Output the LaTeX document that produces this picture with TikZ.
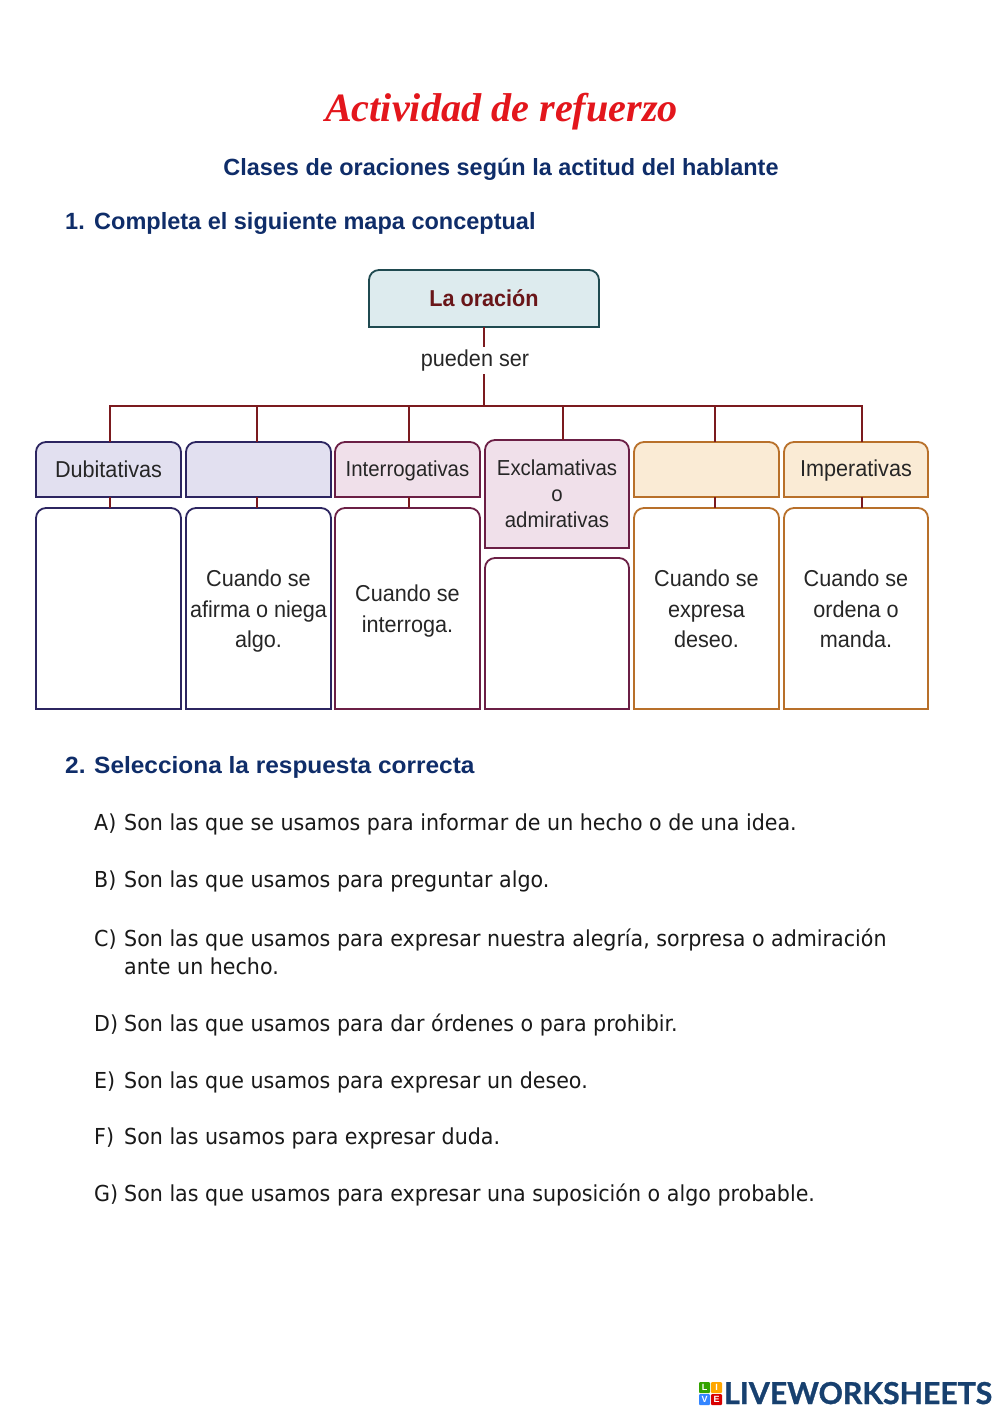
\documentclass[tikz,border=0pt]{standalone}
\usepackage{fontspec}
\setmainfont{Liberation Sans}
\newfontfamily\titlefont{Liberation Serif}
\newfontfamily\bodyfont[FakeStretch=0.937]{DejaVu Sans}
\newfontfamily\mapfont[FakeStretch=0.94]{Liberation Sans}
\newfontfamily\headfont[FakeStretch=1.04]{Liberation Sans}
\newfontfamily\logofont[FakeBold=1]{Lato}
\definecolor{navy}{HTML}{0F2D69}
\definecolor{maroon}{HTML}{7B1A1E}
\definecolor{tealline}{HTML}{1F4A50}
\definecolor{tealfill}{HTML}{DDEBEE}
\definecolor{violetline}{HTML}{2C2560}
\definecolor{violetfill}{HTML}{E2E0F0}
\definecolor{plumline}{HTML}{6B1F45}
\definecolor{plumfill}{HTML}{F0E0EA}
\definecolor{orangeline}{HTML}{B8702A}
\definecolor{orangefill}{HTML}{FAEBD5}
\definecolor{titlered}{HTML}{E3161C}
\definecolor{logonavy}{HTML}{17406F}
\tikzset{
  boxtext/.style={font=\mapfont\fontsize{23}{30.5}\selectfont,align=center,text=black!85},
  smalltext/.style={font=\mapfont\fontsize{21.7}{26}\selectfont,align=center,text=black!85},
  violetbox/.style={draw=violetline,line width=1.8pt},
  plumbox/.style={draw=plumline,line width=1.8pt},
  orangebox/.style={draw=orangeline,line width=1.8pt},
  tealbox/.style={draw=tealline,line width=1.8pt},
  link/.style={draw=maroon,line width=2pt},
  head/.style={font=\bfseries\fontsize{23.5}{28}\selectfont,text=navy,anchor=base west,inner sep=0pt},
  headtwo/.style={font=\headfont\bfseries\fontsize{23.5}{28}\selectfont,text=navy,anchor=base west,inner sep=0pt},
  body/.style={font=\bodyfont\fontsize{22}{28}\selectfont,text=black!90,anchor=base west,inner sep=0pt},
  logosq/.style={rounded corners=1pt,draw=none},
  logoch/.style={font=\bfseries\fontsize{9}{9}\selectfont,text=white,inner sep=0pt},
}
% \capbox{name}{x1}{y1}{x2}{y2}{style and fill}{text style}{dy}{text}
\newcommand{\capbox}[9]{%
  \path[#6] (#2,#5) [rounded corners=10pt] -- (#2,#3) -- (#4,#3) [sharp corners] -- (#4,#5) -- cycle;
  \node[inner sep=0pt,minimum width={(#4-#2)*1pt},minimum height={(#5-#3)*1pt}] (#1) at ({(#2+#4)/2},{(#3+#5)/2}) {};
  \node[#7,inner sep=0pt] (#1t) at ({(#2+#4)/2},{(#3+#5)/2+#8}) {#9};
}
\begin{document}
\begin{tikzpicture}[x=1pt,y=-1pt]
\useasboundingbox (0,0) rectangle (1000,1413);
\fill[white] (0,0) rectangle (1000,1413);

\node[font=\titlefont\bfseries\itshape\fontsize{40.2}{42}\selectfont,text=titlered] (title) at (501.5,112) {Actividad de refuerzo};
\node[font=\bfseries\fontsize{23.45}{28}\selectfont,text=navy] (subtitle) at (501,169) {Clases de oraciones según la actitud del hablante};
\node[head] (n1) at (65,229) {1.};
\node[head] (q1) at (94,229) {Completa el siguiente mapa conceptual};

% map: coordinates of the junctions on the bar
\coordinate (j1) at (110,405.5);
\coordinate (j2) at (257,405.5);
\coordinate (j0) at (484,405.5);
\coordinate (j3) at (409,405.5);
\coordinate (j4) at (563,405.5);
\coordinate (j5) at (715,405.5);
\coordinate (j6) at (862,405.5);

\capbox{root}{369}{270}{599}{327}{tealbox,fill=tealfill}{boxtext}{0}{\textcolor{maroon!85!black}{\bfseries\mapfont La oración}}
\capbox{h1}{36}{442}{181}{497}{violetbox,fill=violetfill}{boxtext}{0}{Dubitativas}
\capbox{h2}{186}{442}{331}{497}{violetbox,fill=violetfill}{boxtext}{0}{}
\capbox{h3}{335}{442}{480}{497}{plumbox,fill=plumfill}{smalltext}{1}{Interrogativas}
\capbox{h4}{485}{440}{629}{548}{plumbox,fill=plumfill}{smalltext}{-0.5}{Exclamativas\\o\\admirativas}
\capbox{h5}{634}{442}{779}{497}{orangebox,fill=orangefill}{boxtext}{0}{}
\capbox{h6}{784}{442}{928}{497}{orangebox,fill=orangefill}{boxtext}{1}{Imperativas}
\capbox{b1}{36}{508}{181}{709}{violetbox}{boxtext}{0}{}
\capbox{b2}{186}{508}{331}{709}{violetbox}{boxtext}{3}{Cuando se\\afirma o niega\\algo.}
\capbox{b3}{335}{508}{480}{709}{plumbox}{boxtext}{2.5}{Cuando se\\interroga.}
\capbox{b4}{485}{558}{629}{709}{plumbox}{boxtext}{0}{}
\capbox{b5}{634}{508}{779}{709}{orangebox}{boxtext}{0.5}{Cuando se\\expresa\\deseo.}
\capbox{b6}{784}{508}{928}{709}{orangebox}{boxtext}{0.5}{Cuando se\\ordena o\\manda.}

\draw[link] (h1.north -| j1) -- (j1) -- (j6) -- (h6.north -| j6);
\draw[link] (j2) -- (h2.north -| j2);
\draw[link] (j3) -- (h3.north -| j3);
\draw[link] (j4) -- (h4.north -| j4);
\draw[link] (j5) -- (h5.north -| j5);
\draw[link] (root.south -| j0) -- (j0);
\draw[link] (h1.south -| j1) -- (b1.north -| j1);
\draw[link] (h2.south -| j2) -- (b2.north -| j2);
\draw[link] (h3.south -| j3) -- (b3.north -| j3);
\draw[link] (h5.south -| j5) -- (b5.north -| j5);
\draw[link] (h6.south -| j6) -- (b6.north -| j6);
\node[boxtext,fill=white,inner xsep=2pt,inner ysep=3pt] (rel) at (475,360.5) {pueden ser};

% part 2
\node[headtwo] (n2) at (65,773) {2.};
\node[headtwo] (q2) at (94,773) {Selecciona la respuesta correcta};
\node[body] (la) at (94,830) {A)};
\node[body] (ta) at (124,830) {Son las que se usamos para informar de un hecho o de una idea.};
\node[body] (lb) at (94,887) {B)};
\node[body] (tb) at (124,887) {Son las que usamos para preguntar algo.};
\node[body] (lc) at (94,946) {C)};
\node[body] (tc) at (124,946) {Son las que usamos para expresar nuestra alegría, sorpresa o admiración};
\node[body] (tc2) at (124,974) {ante un hecho.};
\node[body] (ld) at (94,1031) {D)};
\node[body] (td) at (124,1031) {Son las que usamos para dar órdenes o para prohibir.};
\node[body] (le) at (94,1088) {E)};
\node[body] (te) at (124,1088) {Son las que usamos para expresar un deseo.};
\node[body] (lf) at (94,1144) {F)};
\node[body] (tf) at (124,1144) {Son las usamos para expresar duda.};
\node[body] (lg) at (94,1201) {G)};
\node[body] (tg) at (124,1201) {Son las que usamos para expresar una suposición o algo probable.};

% logo
\fill[logosq,fill=green!55!black!80!yellow] (699,1382) rectangle (710,1393);
\fill[logosq,fill=orange!70!yellow] (711,1382) rectangle (722,1393);
\fill[logosq,fill=blue!60!cyan!80] (699,1394) rectangle (710,1405);
\fill[logosq,fill=red!85!black] (711,1394) rectangle (722,1405);
\node[logoch] (ll) at (704.5,1387.5) {L};
\node[logoch] (li) at (716.5,1387.5) {I};
\node[logoch] (lv) at (704.5,1399.5) {V};
\node[logoch] (lE) at (716.5,1399.5) {E};
\node[font=\logofont\bfseries\fontsize{30.2}{31}\selectfont,text=logonavy,anchor=base west,inner sep=0pt] (logo) at (724,1404) {LIVEWORKSHEETS};
\end{tikzpicture}
\end{document}
